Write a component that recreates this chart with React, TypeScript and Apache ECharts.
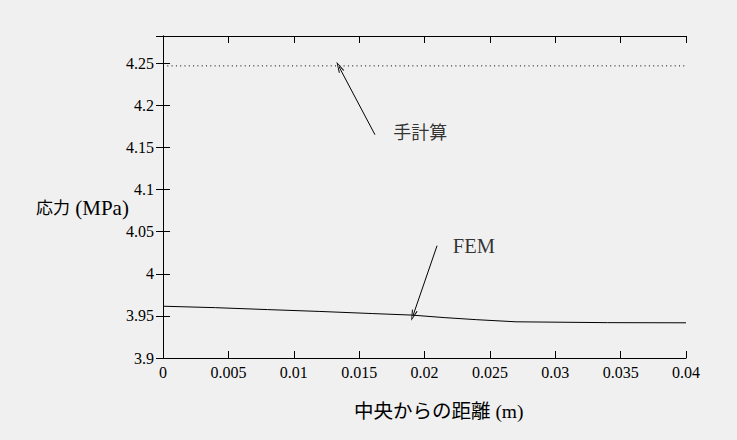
import React, { useEffect, useRef } from "react";
import * as echarts from "echarts";

const xTicksInterval = 0.005;
const yTicksInterval = 0.05;
const xMin = 0;
const xMax = 0.04;
const yMin = 3.9;
const yMax = 4.2825;

const femX = [0, 0.004, 0.008, 0.012, 0.016, 0.019, 0.0215, 0.024, 0.027, 0.034, 0.04];
const femY = [3.9615, 3.9598, 3.9575, 3.9553, 3.9528, 3.951, 3.948, 3.9455, 3.943, 3.942, 3.9418];

const handX = [0, 0.04];
const handY = [4.247, 4.247];

const handArrow = [[0.01621, 4.1653], [0.01346, 4.246]];
const femArrow = [[0.02096, 4.0334], [0.01912, 3.9503]];

const annotationNames = ["手計算", "FEM"];
const annotationPos = [[0.01757, 4.1677], [0.02213, 4.0328]];
const annotationSizes = [18, 20.5];

const yAxisNameJa = "応力";
const yAxisNameUnit = " (MPa)";
const xAxisName = "中央からの距離 (m)";

const FONT = "Liberation Serif, DejaVu Serif, Noto Sans CJK JP, serif";
const ARROW = "path://M5,0 L10,20 L8.2,20 L5,5 L1.8,20 L0,20 Z";

export default function App() {
  const ref = useRef<HTMLDivElement>(null);
  useEffect(() => {
    if (!ref.current) return;
    const chart = echarts.init(ref.current, null, { renderer: "svg" });
    const tickStyle = { inside: true, length: 7, lineStyle: { color: "#000", width: 1 } };
    const axisLine = { show: true, lineStyle: { color: "#000", width: 1 } };
    chart.setOption({
      animation: false,
      backgroundColor: "#f0f0f0",
      textStyle: { fontFamily: FONT },
      grid: { left: 163, top: 36, width: 523, height: 322 },
      xAxis: [
        {
          type: "value", min: xMin, max: xMax, interval: xTicksInterval, position: "bottom",
          axisLine, axisTick: tickStyle, splitLine: { show: false },
          axisLabel: { color: "#000", fontSize: 16, fontFamily: FONT, margin: 6 },
        },
        {
          type: "value", min: xMin, max: xMax, interval: xTicksInterval, position: "top",
          axisLine, axisTick: tickStyle, splitLine: { show: false }, axisLabel: { show: false },
        },
      ],
      yAxis: [
        {
          type: "value", min: yMin, max: yMax, interval: yTicksInterval, position: "left",
          axisLine, axisTick: tickStyle, splitLine: { show: false },
          axisLabel: { color: "#000", fontSize: 16, fontFamily: FONT, margin: 9, showMaxLabel: false },
        },
        {
          type: "value", min: yMin, max: yMax, interval: yTicksInterval, position: "right",
          axisLine, axisTick: tickStyle, splitLine: { show: false }, axisLabel: { show: false },
        },
      ],
      series: [
        {
          type: "line",
          data: femX.map((x, i) => [x, femY[i]]),
          showSymbol: false,
          lineStyle: { color: "#000", width: 1 },
          silent: true,
          markLine: {
            silent: true,
            symbol: ["none", ARROW],
            symbolSize: [6, 11],
            itemStyle: { color: "#000" },
            lineStyle: { color: "#000", width: 1, type: "solid" },
            label: { show: false },
            data: [
              [{ coord: handArrow[0] }, { coord: handArrow[1] }],
              [{ coord: femArrow[0] }, { coord: femArrow[1] }],
            ],
          },
        },
        {
          type: "line",
          data: handX.map((x, i) => [x, handY[i]]),
          showSymbol: false,
          lineStyle: { color: "#000", width: 1, type: [1, 3.3] },
          silent: true,
        },
        {
          type: "scatter",
          symbolSize: 1,
          itemStyle: { color: "rgba(0,0,0,0)" },
          silent: true,
          data: annotationNames.map((n, i) => ({
            name: n,
            value: annotationPos[i],
            label: { fontSize: annotationSizes[i] },
          })),
          label: {
            show: true, position: "right", distance: 0, formatter: "{b}",
            color: "#000", fontFamily: FONT,
          },
        },
      ],
      graphic: [
        {
          type: "text", x: 36, y: 208,
          style: {
            text: `{ja|${yAxisNameJa}}{en|${yAxisNameUnit}}`,
            verticalAlign: "middle",
            rich: {
              ja: { fill: "#000", fontSize: 17, fontFamily: FONT },
              en: { fill: "#000", fontSize: 21, fontFamily: FONT },
            },
          },
        },
        {
          type: "text", x: 354, y: 411,
          style: { text: xAxisName, fill: "#000", fontSize: 19.5, fontFamily: FONT, verticalAlign: "middle" },
        },
      ],
    });
    return () => chart.dispose();
  }, []);
  return <div ref={ref} style={{ position: "fixed", left: 0, top: 0, width: 737, height: 440 }} />;
}
